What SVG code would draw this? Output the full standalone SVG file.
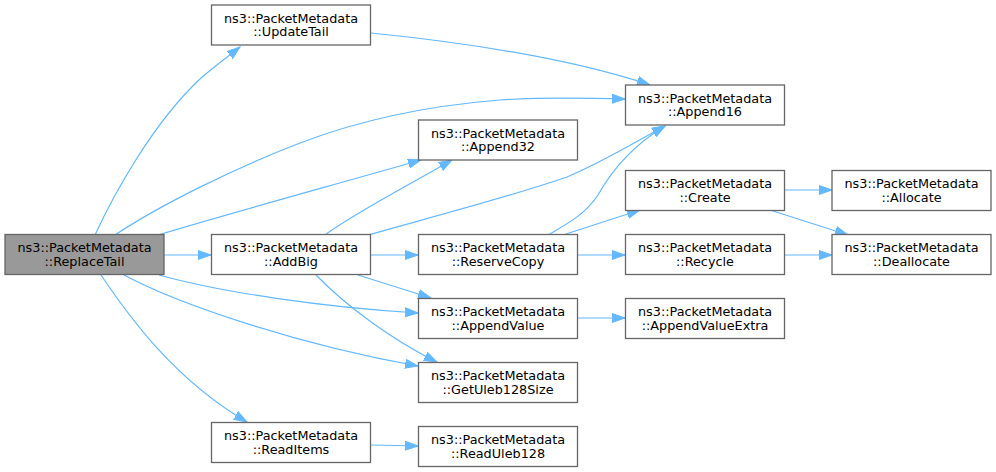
<svg xmlns="http://www.w3.org/2000/svg" width="996" height="472" viewBox="0 0 996 472">
<defs>
<style>
.n rect{fill:#ffffff;stroke:#666666;stroke-width:1.3}
.n.h rect{fill:#999999}
.n text{font-family:"DejaVu Sans","Liberation Sans",sans-serif;font-size:12.8px;fill:#000000;text-anchor:middle}
.e path{fill:none;stroke:#63b8ff;stroke-width:1.2;marker-end:url(#a)}
</style>
<marker id="a" markerWidth="14" markerHeight="11" refX="13" refY="5" orient="auto" markerUnits="userSpaceOnUse">
<path d="M0,0.5 L13,5 L0,9.5 z" fill="#63b8ff" stroke="#63b8ff" stroke-width="1"/>
</marker>
</defs>
<rect width="996" height="472" fill="#ffffff"/>
<g id="edges" class="e">
<path d="M95,235 C113,196 152,124 200,79 C211,69 222,61 240,47"/>
<path d="M115,235 C160,205 235,168 300,143 C360,120 425,106 500,100 C545,97 585,98 625,99"/>
<path d="M158,235 C220,216 330,186 421,160"/>
<path d="M164,255 L211,255"/>
<path d="M159,275 C220,292 320,307 418,313"/>
<path d="M124,275 C180,305 300,345 418,366"/>
<path d="M101,275 C130,318 175,380 247,422"/>
<path d="M371,33 C440,40 560,55 650,85"/>
<path d="M325,235 C350,216 400,190 452,160"/>
<path d="M368,235 C420,220 500,200 567,177 C605,161 635,142 665,126"/>
<path d="M371,255 L418,255"/>
<path d="M358,275 L431,298"/>
<path d="M316,275 C345,305 392,340 437,362"/>
<path d="M548,235 C565,225 585,215 598,195 C612,170 632,146 665,126"/>
<path d="M563,235 L640,210"/>
<path d="M577,255 L625,255"/>
<path d="M577,318 L625,318"/>
<path d="M784,190 L832,190"/>
<path d="M770,210 L848,235"/>
<path d="M784,255 L832,255"/>
<path d="M371,445 L418,446"/>
</g>
<g id="ReplaceTail" class="n h"><rect x="5" y="234.5" width="159" height="40"/><text x="84.5" y="252">ns3::PacketMetadata</text><text x="84.5" y="265.5">::ReplaceTail</text></g>
<g id="UpdateTail" class="n"><rect x="211.5" y="5" width="159" height="40"/><text x="291" y="22.5">ns3::PacketMetadata</text><text x="291" y="36">::UpdateTail</text></g>
<g id="AddBig" class="n"><rect x="211.5" y="234.5" width="159" height="40"/><text x="291" y="252">ns3::PacketMetadata</text><text x="291" y="265.5">::AddBig</text></g>
<g id="ReadItems" class="n"><rect x="211.5" y="422.5" width="159" height="40"/><text x="291" y="440">ns3::PacketMetadata</text><text x="291" y="453.5">::ReadItems</text></g>
<g id="Append32" class="n"><rect x="418.5" y="120" width="159" height="40"/><text x="498" y="137.5">ns3::PacketMetadata</text><text x="498" y="151">::Append32</text></g>
<g id="ReserveCopy" class="n"><rect x="418.5" y="234.5" width="159" height="40"/><text x="498" y="252">ns3::PacketMetadata</text><text x="498" y="265.5">::ReserveCopy</text></g>
<g id="AppendValue" class="n"><rect x="418.5" y="298.5" width="159" height="40"/><text x="498" y="316">ns3::PacketMetadata</text><text x="498" y="329.5">::AppendValue</text></g>
<g id="GetUleb128Size" class="n"><rect x="418.5" y="362.5" width="159" height="40"/><text x="498" y="380">ns3::PacketMetadata</text><text x="498" y="393.5">::GetUleb128Size</text></g>
<g id="ReadUleb128" class="n"><rect x="418.5" y="426.5" width="159" height="40"/><text x="498" y="444">ns3::PacketMetadata</text><text x="498" y="457.5">::ReadUleb128</text></g>
<g id="Append16" class="n"><rect x="625.5" y="85" width="159" height="40"/><text x="705" y="102.5">ns3::PacketMetadata</text><text x="705" y="116">::Append16</text></g>
<g id="Create" class="n"><rect x="625.5" y="170.5" width="159" height="40"/><text x="705" y="188">ns3::PacketMetadata</text><text x="705" y="201.5">::Create</text></g>
<g id="Recycle" class="n"><rect x="625.5" y="234.5" width="159" height="40"/><text x="705" y="252">ns3::PacketMetadata</text><text x="705" y="265.5">::Recycle</text></g>
<g id="AppendValueExtra" class="n"><rect x="625.5" y="298.5" width="159" height="40"/><text x="705" y="316">ns3::PacketMetadata</text><text x="705" y="329.5">::AppendValueExtra</text></g>
<g id="Allocate" class="n"><rect x="832" y="170.5" width="159" height="40"/><text x="911.5" y="188">ns3::PacketMetadata</text><text x="911.5" y="201.5">::Allocate</text></g>
<g id="Deallocate" class="n"><rect x="832" y="234.5" width="159" height="40"/><text x="911.5" y="252">ns3::PacketMetadata</text><text x="911.5" y="265.5">::Deallocate</text></g>
</svg>
